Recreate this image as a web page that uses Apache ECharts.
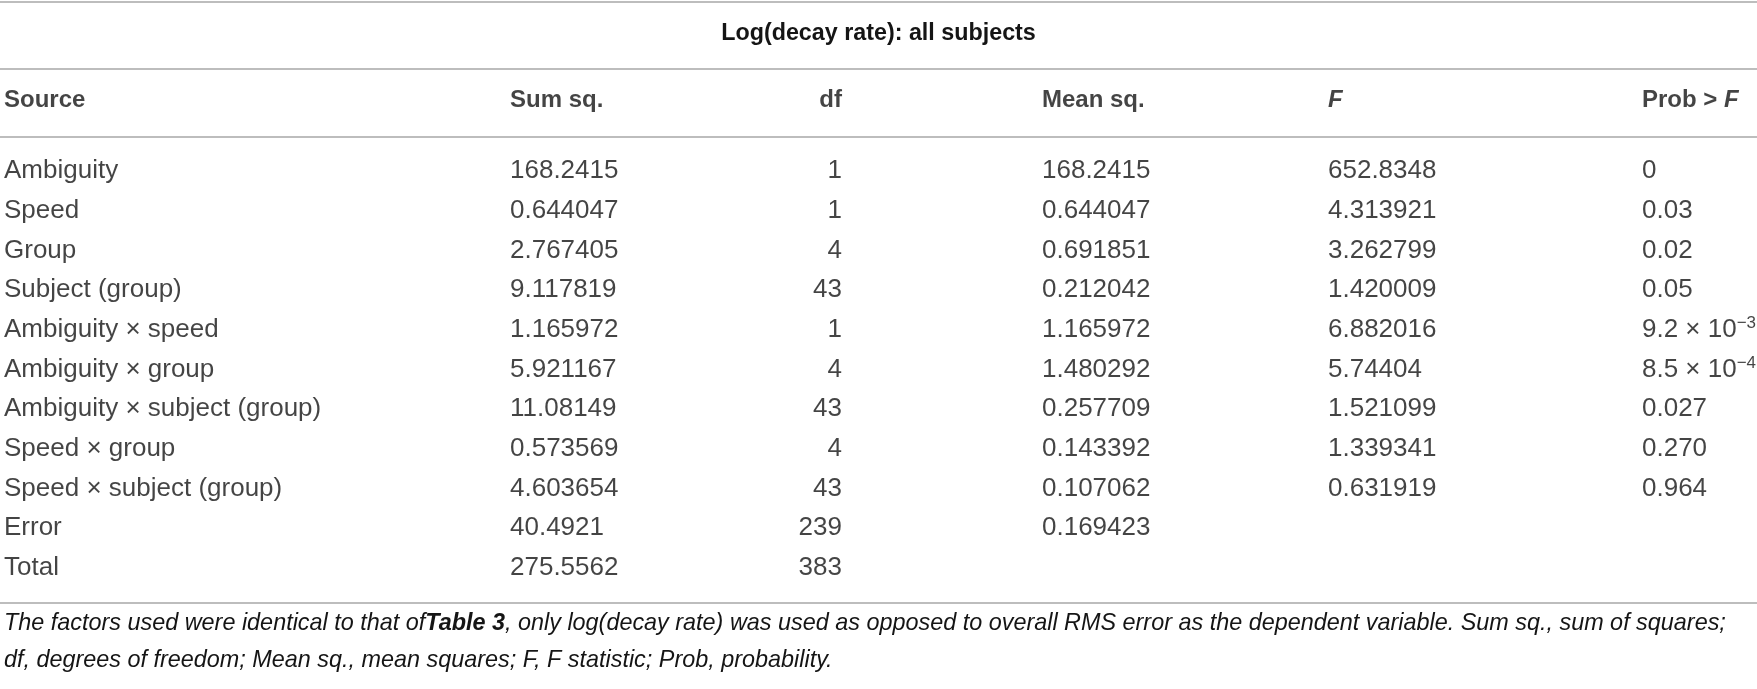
<!DOCTYPE html>
<html>
<head>
<meta charset="utf-8">
<script src="https://cdn.jsdelivr.net/npm/echarts@6/dist/echarts.min.js"></script>
<style>
  html, body { margin: 0; padding: 0; background: #fff; }
  #container { width: 1757px; height: 689px; }
</style>
</head>
<body>
<div id="container"></div>
<script>
// table contents
var tableTitle = 'Log(decay rate): all subjects';
var headers = ['Source', 'Sum sq.', 'df', 'Mean sq.', '{bi|F}', 'Prob > {bi|F}'];
var sources = ['Ambiguity', 'Speed', 'Group', 'Subject (group)', 'Ambiguity × speed', 'Ambiguity × group',
  'Ambiguity × subject (group)', 'Speed × group', 'Speed × subject (group)', 'Error', 'Total'];
var sumSq = ['168.2415', '0.644047', '2.767405', '9.117819', '1.165972', '5.921167', '11.08149', '0.573569', '4.603654', '40.4921', '275.5562'];
var df = ['1', '1', '4', '43', '1', '4', '43', '4', '43', '239', '383'];
var meanSq = ['168.2415', '0.644047', '0.691851', '0.212042', '1.165972', '1.480292', '0.257709', '0.143392', '0.107062', '0.169423', ''];
var fStat = ['652.8348', '4.313921', '3.262799', '1.420009', '6.882016', '5.74404', '1.521099', '1.339341', '0.631919', '', ''];
var probF = ['0', '0.03', '0.02', '0.05', '9.2 × 10^−3', '8.5 × 10^−4', '0.027', '0.270', '0.964', '', ''];
var footnote = 'The factors used were identical to that of{b|Table 3}, only log(decay rate) was used as opposed to overall RMS error as the dependent variable. Sum sq., sum of squares;\n' +
  'df, degrees of freedom; Mean sq., mean squares; F, F statistic; Prob, probability.';

// layout of the columns (anchor on the x scale, alignment)
var colX = [4, 510, 842, 1042, 1328, 1642];
var colAlign = ['left', 'left', 'right', 'left', 'left', 'left'];
var ink = '#151515';
var ruleColor = '#bdbdbd';

var dom = document.getElementById('container');
var myChart = echarts.init(dom);

var columns = [sources, sumSq, df, meanSq, fStat, probF];

function cell(x, row, text, c) {
  return {
    value: [x, row],
    text: text,
    label: { position: colAlign[c] === 'right' ? 'left' : 'right' }
  };
}

var headData = headers.map(function (h, c) { return cell(colX[c], 'header', h, c); });
var bodyData = [];
for (var i = 0; i < sources.length; i++) {
  for (var c = 0; c < columns.length; c++) {
    if (columns[c][i] !== '') {
      bodyData.push(cell(colX[c], sources[i], columns[c][i], c));
    }
  }
}

function ruleAxis(grid, position, offset) {
  return {
    type: 'value', gridIndex: grid, position: position, offset: offset,
    min: 0, max: 1757,
    axisLine: { show: true, onZero: false, lineStyle: { color: ruleColor, width: 2 } },
    axisTick: { show: false }, axisLabel: { show: false }, splitLine: { show: false }
  };
}

var option = {
  animation: false,
  backgroundColor: '#fff',
  textStyle: { fontFamily: 'Liberation Sans', color: ink },
  title: [{
    text: tableTitle,
    left: 'center', top: 19, padding: 0,
    textStyle: { fontFamily: 'Liberation Sans', fontSize: 23.3, fontWeight: 'bold', color: ink, lineHeight: 30 }
  }, {
    text: footnote,
    left: 4, top: 605, padding: 0,
    textStyle: {
      fontFamily: 'Liberation Sans', fontSize: 23.4, fontStyle: 'italic', fontWeight: 'normal', color: ink, lineHeight: 37,
      rich: { b: { fontFamily: 'Liberation Sans', fontSize: 23.4, fontStyle: 'italic', fontWeight: 'bold', color: ink, lineHeight: 37 } }
    }
  }],
  grid: [
    { left: 0, right: 0, top: 69, height: 62 },   // header row
    { left: 0, right: 0, top: 171, height: 397 }  // body rows
  ],
  xAxis: [
    ruleAxis(0, 'top', 0),
    ruleAxis(0, 'top', 67),
    ruleAxis(1, 'top', 34),
    ruleAxis(1, 'bottom', 35)
  ],
  yAxis: [
    { type: 'category', gridIndex: 0, data: ['header'], show: false },
    { type: 'category', gridIndex: 1, data: sources, inverse: true, boundaryGap: false, show: false }
  ],
  series: [{
    type: 'scatter', xAxisIndex: 0, yAxisIndex: 0, symbolSize: 0, silent: true,
    data: headData,
    label: {
      show: true, distance: 0, color: ink, fontFamily: 'Liberation Sans', fontSize: 24, fontWeight: 'bold', lineHeight: 30,
      formatter: function (p) { return p.data.text; },
      rich: { bi: { fontFamily: 'Liberation Sans', fontSize: 24, fontWeight: 'bold', fontStyle: 'italic', color: ink, lineHeight: 30 } }
    }
  }, {
    type: 'scatter', xAxisIndex: 2, yAxisIndex: 1, symbolSize: 0, silent: true,
    data: bodyData,
    label: {
      show: true, distance: 0, color: ink, fontFamily: 'Liberation Sans', fontSize: 26, lineHeight: 30,
      formatter: function (p) { return p.data.text.replace(/\^(\S+)/, '{sup|$1}'); },
      rich: { sup: { fontFamily: 'Liberation Sans', fontSize: 17, color: ink, lineHeight: 17, verticalAlign: 'top' } }
    }
  }]
};

if (option && typeof option === 'object') {
  myChart.setOption(option, true);
}
</script>
</body>
</html>
